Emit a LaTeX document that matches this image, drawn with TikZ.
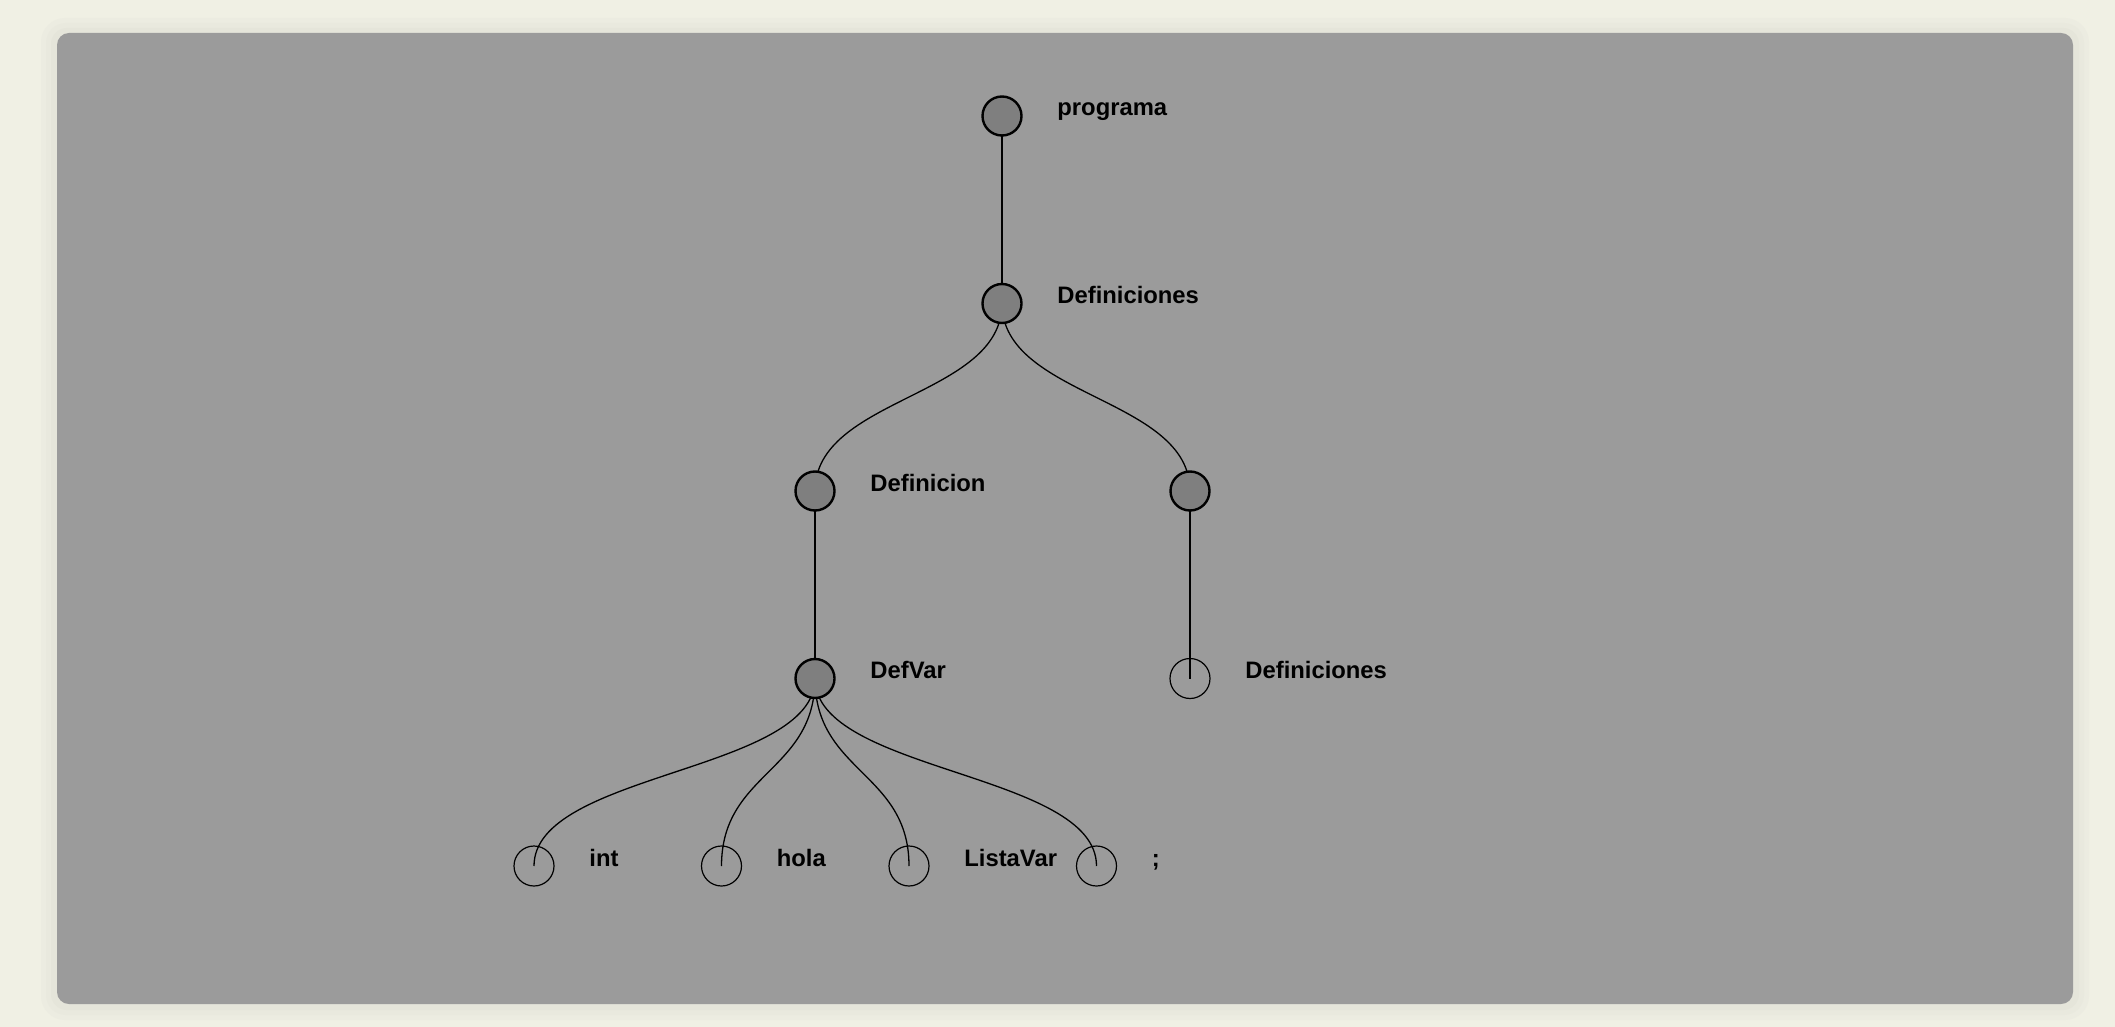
\documentclass[tikz,border=0pt]{standalone}
\usepackage{fontspec}
\setmainfont{Liberation Sans}
\usetikzlibrary{calc}

\pgfdeclarelayer{panel}
\pgfdeclarelayer{edges}
\pgfsetlayers{panel,edges,main}

\definecolor{pagebg}{RGB}{240,240,228}
\definecolor{shadeA}{RGB}{236,236,225}
\definecolor{shadeB}{RGB}{233,233,222}
\definecolor{shadeC}{RGB}{229,229,218}
\definecolor{panelgray}{RGB}{155,155,155}
\definecolor{nodegray}{RGB}{127,127,127}

\begin{document}
\begin{tikzpicture}[x=0.5pt,y=-0.5pt,
	inner/.style={circle,draw=black,line width=1.2pt,fill=nodegray,minimum size=19.5pt,inner sep=0pt},
	leaf/.style={circle,draw=black,line width=0.6pt,minimum size=20pt,inner sep=0pt},
	lbl/.style={anchor=base west,inner sep=0pt,text=black,font=\fontsize{11.9}{14}\selectfont\bfseries},
	link/.style={line width=0.65pt}]

		\useasboundingbox (0,0) rectangle (2115,1027);

		\begin{pgfonlayer}{panel}
		\fill [pagebg] (0,0) rectangle (2115,1027);
		% soft shadow round the panel
		\fill [shadeA, rounded corners=12pt] (41,18) rectangle (2089,1020);
		\fill [shadeB, rounded corners=10pt] (46,23) rectangle (2084,1015);
		\fill [shadeC, rounded corners=8pt] (51,28) rectangle (2079,1010);
		\fill [panelgray, rounded corners=6pt] (57,33) rectangle (2073,1004);
		\end{pgfonlayer}

		\node [inner] (prog) at (1002,116) {};
		\node [inner] (defs) at (1002,303.5) {};
		\node [inner] (def) at (815,491) {};
		\node [inner] (defsR) at (1190,491) {};
		\node [inner] (defvar) at (815,678.5) {};
		\node [leaf] (defsleaf) at (1190,678.5) {};

		\node [leaf] (int) at (534,866) {};
		\node [leaf] (hola) at (721.5,866) {};
		\node [leaf] (lista) at (909,866) {};
		\node [leaf] (semi) at (1096.5,866) {};

		\node [lbl] (progtxt) at ($(prog.center)+(55,0)$) {programa};
		\node [lbl] (defstxt) at ($(defs.center)+(55,0)$) {Definiciones};
		\node [lbl] (deftxt) at ($(def.center)+(55,0)$) {Definicion};
		\node [lbl] (defvartxt) at ($(defvar.center)+(55,0)$) {DefVar};
		\node [lbl] (defsleaftxt) at ($(defsleaf.center)+(55,0)$) {Definiciones};
		\node [lbl] (inttxt) at ($(int.center)+(55,0)$) {int};
		\node [lbl] (holatxt) at ($(hola.center)+(55,0)$) {hola};
		\node [lbl] (listatxt) at ($(lista.center)+(55,0)$) {ListaVar};
		\node [lbl] (semitxt) at ($(semi.center)+(55,0)$) {;};

		\begin{pgfonlayer}{edges}
		\draw [link] (prog.center)--(defs.center);
		\draw [link] (def.center)--(defvar.center);
		\draw [link] (defsR.center)--(defsleaf.center);
		\foreach \a/\b in {defs/def, defs/defsR, defvar/int, defvar/hola, defvar/lista, defvar/semi}
			\draw [link] (\a.center) .. controls +(0,93.75) and +(0,-93.75) .. (\b.center);
		\end{pgfonlayer}

\end{tikzpicture}
\end{document}
